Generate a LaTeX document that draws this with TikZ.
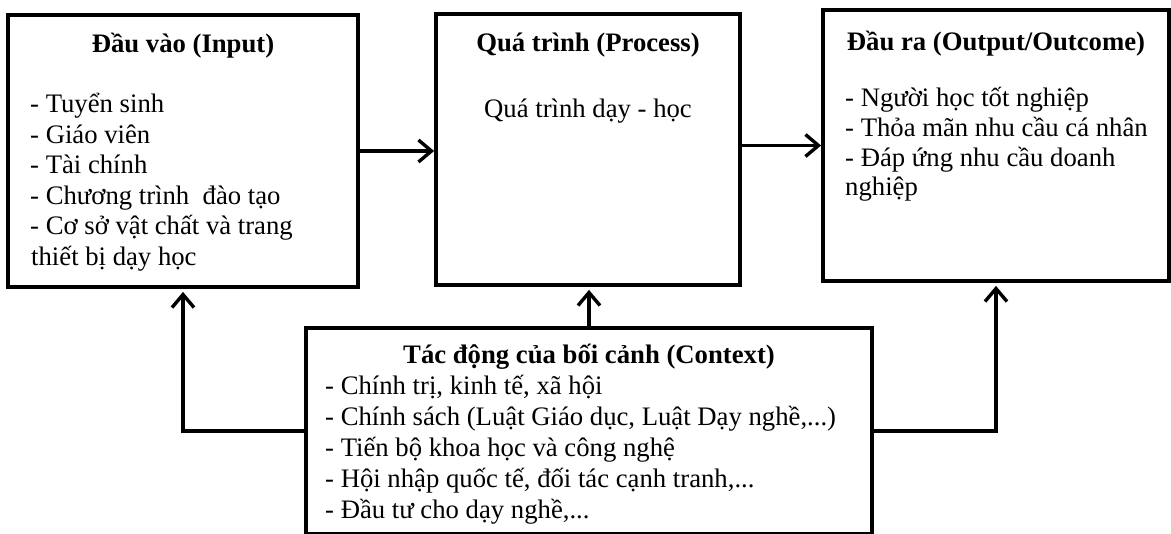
\documentclass[tikz,border=0pt]{standalone}
\usepackage{fontspec}
\setmainfont{Liberation Serif}
\usetikzlibrary{arrows.meta}
\begin{document}
\begin{tikzpicture}[x=1pt,y=-1pt,
  box/.style={draw=black,line width=3.8pt,rectangle,inner sep=0pt,fill=white},
  ttl/.style={inner sep=0pt,anchor=base,font=\fontsize{26.7}{31}\selectfont\bfseries},
  txt/.style={inner sep=0pt,anchor=base west,font=\fontsize{26.7}{31}\selectfont},
  arr/.style={line width=3.2pt,-{Straight Barb[length=13pt,width=22pt,line width=3.4pt]}}]
\useasboundingbox (0,0) rectangle (1171,534);

% four boxes
\node[box,minimum width=350pt,minimum height=272pt] (input)   at (183,151) {};
\node[box,minimum width=304pt,minimum height=271pt] (process) at (588,149.5) {};
\node[box,minimum width=346pt,minimum height=271pt] (output)  at (996,145.5) {};
\node[box,minimum width=566pt,minimum height=206pt] (context) at (589,431) {};

% input
\node[ttl] (inT) at (183,53) {Đầu vào (Input)};
\node[txt] (in1) at (30,113)   {- Tuyển sinh};
\node[txt] (in2) at (30,143.5) {- Giáo viên};
\node[txt] (in3) at (30,174)   {- Tài chính};
\node[txt] (in4) at (30,204.5) {- Chương trình\ \ đào tạo};
\node[txt] (in5) at (30,235)   {- Cơ sở vật chất và trang};
\node[txt] (in6) at (31,265.5) {thiết bị dạy học};

% process
\node[ttl] (prT) at (588,52) {Quá trình (Process)};
\node[inner sep=0pt,anchor=base,font=\fontsize{26.7}{31}\selectfont] (pr1) at (588,118) {Quá trình dạy - học};

% output
\node[ttl] (outT) at (996,51) {Đầu ra (Output/Outcome)};
\node[txt] (out1) at (845,107) {- Người học tốt nghiệp};
\node[txt] (out2) at (845,137) {- Thỏa mãn nhu cầu cá nhân};
\node[txt] (out3) at (845,167) {- Đáp ứng nhu cầu doanh};
\node[txt] (out4) at (845,196) {nghiệp};

% context
\node[ttl] (cxT) at (589,364) {Tác động của bối cảnh (Context)};
\node[txt] (cx1) at (325,395) {- Chính trị, kinh tế, xã hội};
\node[txt] (cx2) at (325,426) {- Chính sách (Luật Giáo dục, Luật Dạy nghề,...)};
\node[txt] (cx3) at (325,457) {- Tiến bộ khoa học và công nghệ};
\node[txt] (cx4) at (325,488) {- Hội nhập quốc tế, đối tác cạnh tranh,...};
\node[txt] (cx5) at (325,519) {- Đầu tư cho dạy nghề,...};

% flow arrows
\draw[arr] (input.east) -- (input.east -| process.west);
\draw[arr] (output.west -| process.east) -- (output.west);
\draw[arr,shorten >=3pt] (context.west) -| (input.south);
\draw[arr,shorten >=3pt] (context.north) -- (context.north |- process.south);
\draw[arr,shorten >=3pt] (context.east) -| (output.south);
\end{tikzpicture}
\end{document}
